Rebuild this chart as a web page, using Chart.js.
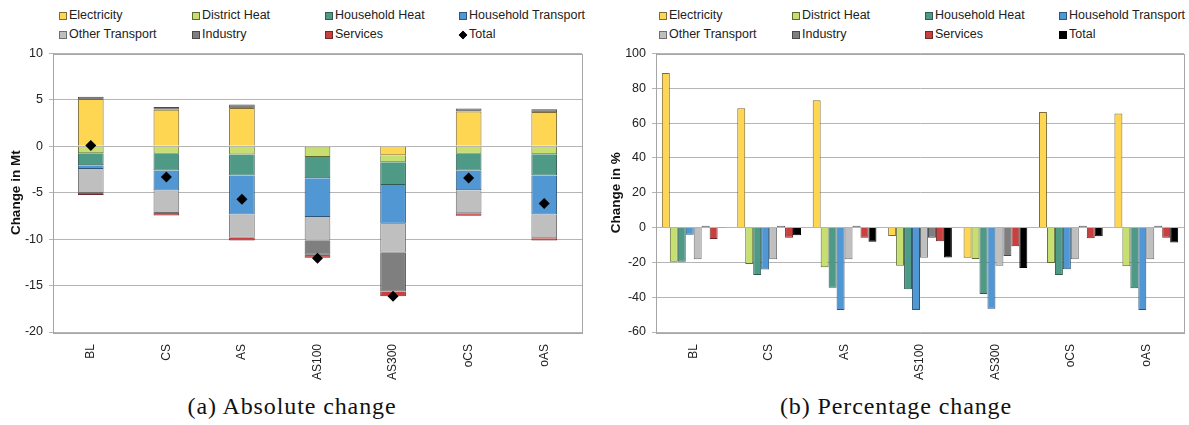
<!DOCTYPE html>
<html lang="en">
<head>
<meta charset="UTF-8">
<title>Absolute and percentage change</title>
<script src="https://cdn.jsdelivr.net/npm/chart.js"></script>
<style>
    body { margin: 0; background: #fff; }
    #page { position: relative; width: 1189px; height: 425px; overflow: hidden; font-family: "Liberation Sans", Arial, sans-serif; }
    .box { position: absolute; top: 40px; height: 350px; }
    .legend { position: absolute; top: 0; left: 0; width: 600px; height: 45px; }
    .item { position: absolute; font-size: 12.5px; color: #222; white-space: nowrap; line-height: 14px; }
    .mark { position: absolute; left: -10px; top: 4px; width: 6px; height: 6px; border: 1px solid #555; }
    .caption { position: absolute; top: 393px; font-family: "Liberation Serif", serif; font-size: 24px; letter-spacing: 0.9px; color: #111; transform: translateX(-50%); white-space: nowrap; }
</style>
</head>
<body>
<div id="page">
    <div class="legend" id="legendAbs"></div>
    <div class="legend" id="legendPct" style="left:600px"></div>
    <div class="box" style="left:0;width:600px"><canvas id="absChart"></canvas></div>
    <div class="box" style="left:600px;width:589px"><canvas id="pctChart"></canvas></div>
    <div class="caption" style="left:292px">(a) Absolute change</div>
    <div class="caption" style="left:896px">(b) Percentage change</div>
</div>
<script>
// scenarios
const scenarios = ['BL', 'CS', 'AS', 'AS100', 'AS300', 'oCS', 'oAS'];

// sectors
const sectors = ['Electricity', 'District Heat', 'Household Heat', 'Household Transport', 'Other Transport', 'Industry', 'Services'];
const fills   = ['#FFD651', '#C7DF70', '#4F9A87', '#5097D4', '#BFBFBF', '#7F7F7F', '#C8403F'];
const borders = ['#7d6c35', '#5d6b33', '#2f5b50', '#2d5679', '#707070', '#4a4a4a', '#6e2a29'];

// (a) absolute change in Mt
const absElectricity = [5.10, 3.93, 4.14, -0.18, -0.96, 3.75, 3.71];
const absDistrictHeat = [-0.75, -0.79, -0.89, -0.96, -0.75, -0.79, -0.86];
const absHouseholdHeat = [-1.29, -1.82, -2.25, -2.29, -2.46, -1.82, -2.29];
const absHouseholdTransport = [-0.39, -2.14, -4.21, -4.18, -4.18, -2.11, -4.18];
const absOtherTransport = [-2.60, -2.43, -2.50, -2.57, -3.11, -2.50, -2.57];
const absIndustry = [0.25, 0.32, 0.36, -1.50, -4.18, 0.32, 0.29];
const absServices = [-0.20, -0.28, -0.29, -0.32, -0.50, -0.25, -0.25];
const absTotal = [0.08, -3.30, -5.70, -12.05, -16.15, -3.40, -6.15];
const absTicks = { min: -20, max: 10, step: 5 };

// (b) percentage change
const pctElectricity = [88.8, 68.5, 73.1, -4.8, -17.4, 66.4, 65.5];
const pctDistrictHeat = [-19.7, -20.9, -22.8, -22.0, -18.0, -20.3, -22.2];
const pctHouseholdHeat = [-19.7, -27.2, -34.6, -35.4, -38.1, -27.2, -34.8];
const pctHouseholdTransport = [-4.2, -24.1, -47.3, -47.3, -46.7, -23.9, -47.3];
const pctOtherTransport = [-18.2, -18.2, -18.2, -17.4, -22.0, -18.2, -18.2];
const pctIndustry = [1.0, 1.0, 1.0, -5.9, -16.3, 1.0, 1.0];
const pctServices = [-6.5, -5.9, -5.9, -7.8, -10.7, -6.1, -5.9];
const pctTotal = [0.2, -4.4, -8.2, -17.2, -23.2, -5.0, -8.6];
const pctTicks = { min: -60, max: 100, step: 20 };

const absSeries = [absElectricity, absDistrictHeat, absHouseholdHeat, absHouseholdTransport, absOtherTransport, absIndustry, absServices];
const pctSeries = [pctElectricity, pctDistrictHeat, pctHouseholdHeat, pctHouseholdTransport, pctOtherTransport, pctIndustry, pctServices];

Chart.defaults.font.family = '"Liberation Sans", Arial, sans-serif';
Chart.defaults.color = '#222';
Chart.defaults.animation = false;

// box around the plot area
const frame = {
    id: 'frame',
    afterDraw(chart) {
        const a = chart.chartArea;
        const ctx = chart.ctx;
        ctx.save();
        ctx.strokeStyle = '#a6a6a6';
        ctx.lineWidth = 1;
        ctx.strokeRect(Math.round(a.left) + 0.5, Math.round(a.top) + 0.5, Math.round(a.right - a.left), Math.round(a.bottom - a.top));
        ctx.restore();
    }
};

function buildLegend(id, totalDiamond) {
    const el = document.getElementById(id);
    const cols = [69, 202, 335, 469];
    const rows = [8, 27];
    const names = sectors.concat(['Total']);
    names.forEach((name, i) => {
        const item = document.createElement('div');
        item.className = 'item';
        item.style.left = cols[i % 4] + 'px';
        item.style.top = rows[Math.floor(i / 4)] + 'px';
        const m = document.createElement('span');
        m.className = 'mark';
        if (i < sectors.length) {
            m.style.background = fills[i];
            m.style.borderColor = borders[i];
        } else {
            m.style.background = '#000';
            m.style.borderColor = '#000';
            if (totalDiamond) {
                m.style.width = '4px'; m.style.height = '4px';
                m.style.left = '-9px'; m.style.top = '5px';
                m.style.transform = 'rotate(45deg)';
            }
        }
        item.appendChild(m);
        item.appendChild(document.createTextNode(name));
        el.appendChild(item);
    });
}

function scalesFor(ticks, title, yWidth) {
    return {
        x: {
            stacked: false,
            grid: { display: false },
            border: { display: false },
            ticks: { minRotation: 90, maxRotation: 90, padding: 4, font: { size: 12 }, color: '#222' },
            afterFit(scale) { scale.height = 58; }
        },
        y: {
            min: ticks.min,
            max: ticks.max,
            ticks: { stepSize: ticks.step, padding: 6, font: { size: 12.5 }, color: '#222' },
            grid: { color: '#b5b5b5', tickLength: 4 },
            border: { color: '#a6a6a6' },
            title: { display: true, text: title, font: { size: 13.5, weight: 'bold' }, color: '#111', padding: { top: 8, bottom: 0 } },
            afterFit(scale) { scale.width = yWidth; }
        }
    };
}

// (a) stacked bars + total diamonds
const absDatasets = absSeries.map((data, i) => ({
    type: 'bar',
    label: sectors[i],
    data: data,
    backgroundColor: fills[i],
    borderColor: borders[i],
    borderWidth: 1,
    categoryPercentage: 0.34,
    barPercentage: 1
}));
absDatasets.push({
    type: 'line',
    label: 'Total',
    data: absTotal,
    showLine: false,
    pointStyle: 'rectRot',
    pointRadius: 5.5,
    backgroundColor: '#000',
    borderColor: '#000',
    borderWidth: 0,
    order: -1
});

const absOpts = scalesFor(absTicks, 'Change in Mt', 53);
absOpts.x.stacked = true;
absOpts.y.stacked = true;

new Chart(document.getElementById('absChart'), {
    data: { labels: scenarios, datasets: absDatasets },
    options: {
        responsive: true,
        maintainAspectRatio: false,
        layout: { padding: { top: 12, right: 18, bottom: 0, left: 0 } },
        plugins: { legend: { display: false }, tooltip: { enabled: false } },
        scales: absOpts
    },
    plugins: [frame]
});

// (b) grouped bars
const pctDatasets = pctSeries.map((data, i) => ({
    label: sectors[i],
    data: data,
    backgroundColor: fills[i],
    borderColor: borders[i],
    borderWidth: 1
}));
pctDatasets.push({
    label: 'Total',
    data: pctTotal,
    backgroundColor: '#000',
    borderColor: '#000',
    borderWidth: 1
});

new Chart(document.getElementById('pctChart'), {
    type: 'bar',
    data: { labels: scenarios, datasets: pctDatasets },
    options: {
        responsive: true,
        maintainAspectRatio: false,
        datasets: { bar: { categoryPercentage: 0.845, barPercentage: 1 } },
        layout: { padding: { top: 12, right: 5, bottom: 0, left: 0 } },
        plugins: { legend: { display: false }, tooltip: { enabled: false } },
        scales: scalesFor(pctTicks, 'Change in %', 56)
    },
    plugins: [frame]
});

buildLegend('legendAbs', true);
buildLegend('legendPct', false);
</script>
</body>
</html>
